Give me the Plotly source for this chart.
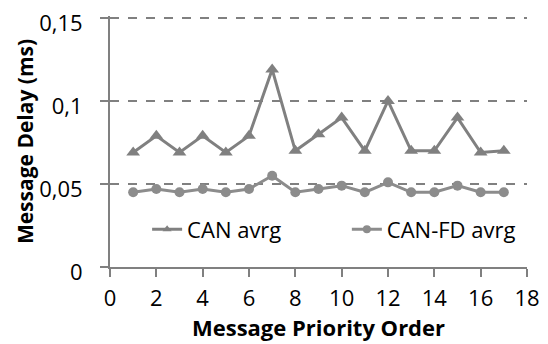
import plotly.graph_objects as go

x_order = list(range(1, 18))
can_avrg = [0.069, 0.079, 0.069, 0.079, 0.069, 0.079, 0.119, 0.070, 0.080, 0.090,
            0.070, 0.100, 0.070, 0.070, 0.090, 0.069, 0.070]
canfd_avrg = [0.045, 0.047, 0.045, 0.047, 0.045, 0.047, 0.055, 0.045, 0.047, 0.049,
              0.045, 0.051, 0.045, 0.045, 0.049, 0.045, 0.045]
x_ticks = list(range(0, 19, 2))
y_ticks = [0, 0.05, 0.1, 0.15]
y_tick_labels = ["0", "0,05", "0,1", "0,15"]

GRAY = "#808080"
GRAY2 = "#8c8c8c"
FONT = "Open Sans"

fig = go.Figure()
fig.add_trace(go.Scatter(x=x_order, y=can_avrg, name="CAN avrg", mode="lines+markers",
                         line=dict(color=GRAY, width=3), showlegend=False,
                         marker=dict(symbol="triangle-up", size=12, color=GRAY)))
fig.add_trace(go.Scatter(x=x_order, y=canfd_avrg, name="CAN-FD avrg", mode="lines+markers",
                         line=dict(color=GRAY2, width=3), showlegend=False,
                         marker=dict(symbol="circle", size=10, color=GRAY2)))
# legend entries (smaller legend markers, as in the reference)
fig.add_trace(go.Scatter(x=[None], y=[None], name="CAN avrg", mode="lines+markers",
                         line=dict(color=GRAY, width=3), legend="legend",
                         marker=dict(symbol="triangle-up", size=8, color=GRAY)))
fig.add_trace(go.Scatter(x=[None], y=[None], name="CAN-FD avrg", mode="lines+markers",
                         line=dict(color=GRAY2, width=3), legend="legend2",
                         marker=dict(symbol="circle", size=8, color=GRAY2)))

legend_style = dict(orientation="h", y=0.15, xanchor="left", yanchor="middle",
                    bgcolor="rgba(0,0,0,0)", font=dict(size=22))

fig.update_layout(
    width=540, height=336,
    margin=dict(l=102, r=21, t=8, b=77, pad=0),
    paper_bgcolor="white", plot_bgcolor="white",
    font=dict(family=FONT, size=22, color="#000000"),
    showlegend=True,
    legend=dict(x=0.089, **legend_style),
    legend2=dict(x=0.568, **legend_style),
    xaxis=dict(range=[0, 18], tickvals=x_ticks, showgrid=False, zeroline=False,
               showline=True, linecolor=GRAY, linewidth=2, automargin=False,
               ticks="outside", ticklen=8, tickcolor=GRAY, tickwidth=2,
               tickfont=dict(size=22), ticklabelstandoff=3, ticklabeloverflow="allow",
               title=dict(text="<b>Message Priority Order</b>", font=dict(size=22), standoff=0)),
    yaxis=dict(range=[0, 0.1512], tickvals=y_ticks, ticktext=y_tick_labels,
               showgrid=True, gridcolor=GRAY, griddash="dash", gridwidth=1.5,
               zeroline=False, showline=True, linecolor=GRAY, linewidth=2, automargin=False,
               ticks="outside", ticklen=8, tickcolor=GRAY, tickwidth=2,
               tickfont=dict(size=22), ticklabelstandoff=13, ticklabelshift=5,
               ticklabeloverflow="allow",
               title=dict(text="<b>Message Delay (ms)</b>", font=dict(size=21), standoff=0)),
)

fig.write_html("out.html")
